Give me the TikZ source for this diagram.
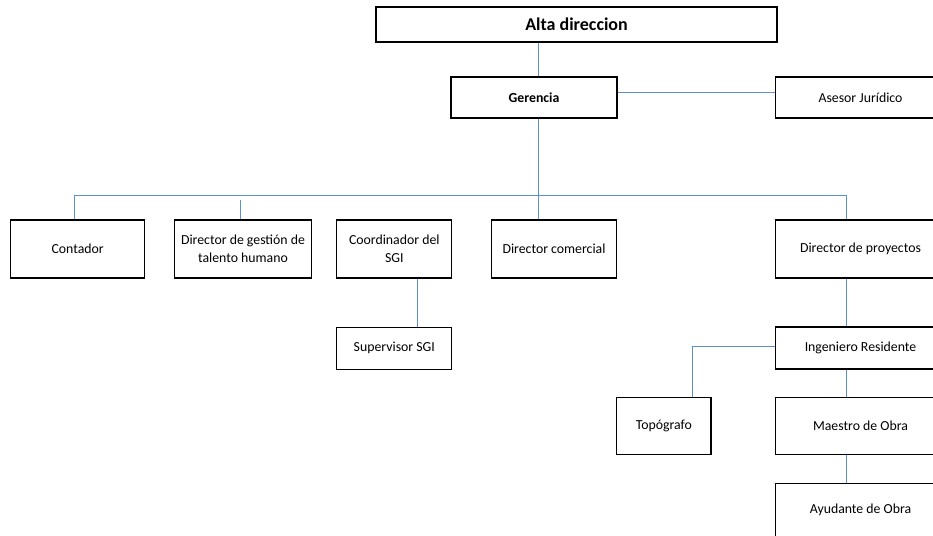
\documentclass[tikz,border=0pt]{standalone}
\usepackage{fontspec}
\setmainfont{Carlito}
\usepackage{tikz}
\usetikzlibrary{calc}

\definecolor{linkblue}{RGB}{91,145,205}

\begin{document}
\begin{tikzpicture}[x=1pt, y=-1pt,
    box/.style={draw=black, line width=1.3pt, inner sep=2pt, align=center,
        font=\fontsize{13.8}{17.5}\selectfont},
    link/.style={draw=linkblue, line width=1pt}]
    \useasboundingbox (0, 0) rectangle (933, 535);
    \node[box, minimum width=401, minimum height=35, font=\bfseries\fontsize{18}{22}\selectfont] (alta) at (576.5, 24.5) {Alta direccion};
    \node[box, minimum width=166, minimum height=41, font=\bfseries\fontsize{13.8}{17.5}\selectfont] (gerencia) at (534, 97.5) {Gerencia};
    \node[box, minimum width=170, minimum height=41] (asesor) at (860.5, 97.5) {Asesor Jurídico};
    \node[box, minimum width=134, minimum height=58] (contador) at (77.7, 249) {Contador};
    \node[box, minimum width=137, minimum height=58] (talento) at (243, 249) {Director de gestión de\\talento humano};
    \node[box, minimum width=115, minimum height=58] (coordinador) at (394.3, 249) {Coordinador del\\SGI};
    \node[box, minimum width=125, minimum height=58] (comercial) at (554, 249) {Director comercial};
    \node[box, minimum width=170, minimum height=58] (proyectos) at (860.5, 249) {Director de proyectos};
    \node[box, minimum width=115, minimum height=42] (supervisor) at (394.3, 348.3) {Supervisor SGI};
    \node[box, minimum width=170, minimum height=42] (ingeniero) at (860.5, 348) {Ingeniero Residente};
    \node[box, minimum width=94.5, minimum height=56.6] (topografo) at (663.8, 426) {Topógrafo};
    \node[box, minimum width=170, minimum height=56.6] (maestro) at (860.5, 426) {Maestro de Obra};
    \node[box, minimum width=170, minimum height=53.4] (ayudante) at (860.5, 510) {Ayudante de Obra};
    \coordinate (bus) at (538, 195);
    \coordinate (busL) at (74, 195);
    \coordinate (busR) at (846, 195);
    \coordinate (talentotop) at (240, 200);
    \coordinate (sgi) at (417.5, 300);
    \coordinate (topo) at (692, 346);
    \draw[link] (alta.south -| bus) -- (gerencia.north -| bus);
    \draw[link] ([yshift=5pt]gerencia.east) -- ([yshift=5pt]asesor.west);
    \draw[link] (gerencia.south -| bus) -- (comercial.north -| bus);
    \draw[link] (contador.north -| busL) -- (busL) -- (busR) -- (proyectos.north -| busR);
    \draw[link] (talentotop) -- (talento.north -| talentotop);
    \draw[link] (coordinador.south -| sgi) -- (supervisor.north -| sgi);
    \draw[link] (proyectos.south -| busR) -- (ingeniero.north -| busR);
    \draw[link] (ingeniero.south -| busR) -- (maestro.north -| busR);
    \draw[link] (maestro.south -| busR) -- (ayudante.north -| busR);
    \draw[link] (ingeniero.west |- topo) -- (topo) -- (topografo.north -| topo);
\end{tikzpicture}
\end{document}
